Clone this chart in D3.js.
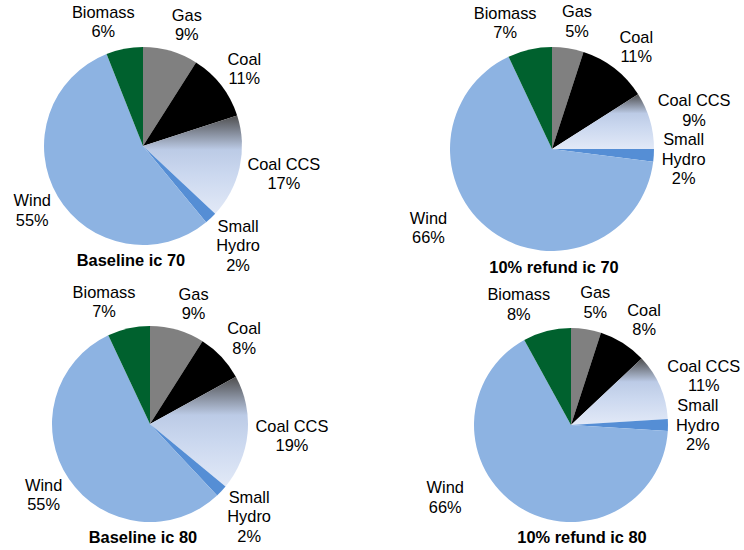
<!DOCTYPE html>
<html>
<head>
<meta charset="utf-8">
<script src="https://cdn.jsdelivr.net/npm/d3@7/dist/d3.min.js"></script>
<style>
  html, body { margin: 0; padding: 0; background: #ffffff; }
  svg { display: block; }
  text { font-family: "Liberation Sans", Arial, sans-serif; fill: #000; }
</style>
</head>
<body>
<svg id="chart" width="744" height="550"></svg>
<script>
// ---- data ----
const categories = ["Gas", "Coal", "Coal CCS", "Small Hydro", "Wind", "Biomass"];
const labelLines = [["Gas"], ["Coal"], ["Coal CCS"], ["Small", "Hydro"], ["Wind"], ["Biomass"]];
const baselineIc70 = [9, 11, 17, 2, 55, 6];
const refundIc70   = [5, 11, 9, 2, 66, 7];
const baselineIc80 = [9, 8, 19, 2, 55, 7];
const refundIc80   = [5, 8, 11, 2, 66, 8];
const titles = ["Baseline ic 70", "10% refund ic 70", "Baseline ic 80", "10% refund ic 80"];
const seriesList = [baselineIc70, refundIc70, baselineIc80, refundIc80];

// ---- layout / style ----
const colors = ["#808080", "#000000", "url(#ccsGrad)", "#558ED5", "#8DB3E2", "#00612E"];
const layout = [
  { cx: 143, cy: 146, r: 99,  tx: 131, ty: 266, overrides: {} },
  { cx: 552, cy: 149, r: 102, tx: 554, ty: 273,
    overrides: { 2: { dy: -2.5 }, 3: { dy: 1 }, 4: { angle: 237, gap: 23 } } },
  { cx: 150, cy: 424, r: 98,  tx: 143, ty: 543, overrides: {} },
  { cx: 571, cy: 425, r: 97,  tx: 582, ty: 543, overrides: { 4: { angle: 239.7, gap: 27 } } }
];
const fontSize = 16.4, lineH = 19.5, gapDefault = 8;

const svg = d3.select("#chart");
const defs = svg.append("defs");
const grad = defs.append("linearGradient").attr("id", "ccsGrad")
  .attr("x1", 0).attr("y1", 0).attr("x2", 0).attr("y2", 1);
[[0, "#4f4f4f"], [0.12, "#737882"], [0.35, "#bccbe6"], [0.6, "#cbd8ef"], [1, "#e2e9f7"]]
  .forEach(([o, c]) => grad.append("stop").attr("offset", o).attr("stop-color", c));

const pie = d3.pie().sort(null).value(d => d);

seriesList.forEach((values, pi) => {
  const L = layout[pi];
  const g = svg.append("g");
  const arcs = pie(values);
  const arc = d3.arc().innerRadius(0).outerRadius(L.r);

  g.selectAll("path.slice").data(arcs).enter().append("path")
    .attr("class", "slice")
    .attr("transform", `translate(${L.cx},${L.cy})`)
    .attr("d", arc)
    .attr("fill", (d, i) => colors[i]);

  // labels
  arcs.forEach((d, i) => {
    const ov = L.overrides[i] || {};
    const a = ov.angle !== undefined ? ov.angle * Math.PI / 180 : (d.startAngle + d.endAngle) / 2;
    const dist = L.r + (ov.gap !== undefined ? ov.gap : gapDefault);
    const s = Math.sin(a), c = Math.cos(a);
    const px = L.cx + dist * s, py = L.cy - dist * c;
    const lines = labelLines[i].concat([values[i] + "%"]);
    const t = g.append("text").attr("font-size", fontSize).attr("text-anchor", "middle");
    const spans = lines.map(line => t.append("tspan").text(line));
    let w = 0;
    spans.forEach(sp => { w = Math.max(w, sp.node().getComputedTextLength()); });
    const h = lines.length * lineH;
    const frac = Math.max(0, Math.min(0.5, 0.5 * (1 - Math.abs(s) / 0.3)));
    const left = s >= 0 ? px - frac * w : px - w + frac * w;
    const xc = left + w / 2;
    const yc = py - c * h / 2 + (ov.dy || 0);
    spans.forEach((sp, k) => {
      sp.attr("x", xc).attr("y", yc - h / 2 + lineH * (k + 0.5) + 5.8);
    });
  });

  svg.append("text")
    .attr("x", L.tx).attr("y", L.ty)
    .attr("text-anchor", "middle")
    .attr("font-size", fontSize)
    .attr("font-weight", "bold")
    .text(titles[pi]);
});
</script>
</body>
</html>
